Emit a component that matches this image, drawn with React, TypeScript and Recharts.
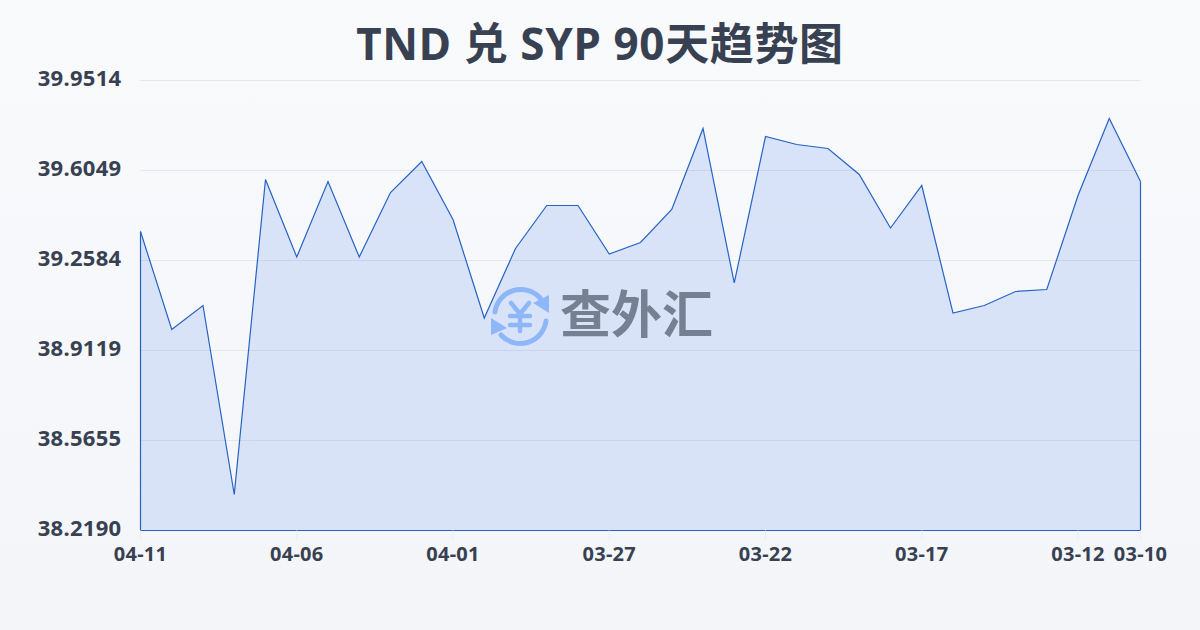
import React from "react";
import { AreaChart, Area, XAxis, YAxis, CartesianGrid, ReferenceLine } from "recharts";

const dates = ["04-11","04-10","04-09","04-08","04-07","04-06","04-05","04-04","04-03","04-02","04-01","03-31","03-30","03-29","03-28","03-27","03-26","03-25","03-24","03-23","03-22","03-21","03-20","03-19","03-18","03-17","03-16","03-15","03-14","03-13","03-12","03-11","03-10"];
const rates = [39.3701,38.9928,39.0852,38.3576,39.5703,39.272,39.5626,39.272,39.5202,39.6396,39.4163,39.037,39.3046,39.4702,39.4702,39.283,39.3277,39.4548,39.7666,39.172,39.7358,39.705,39.6896,39.5895,39.3835,39.5472,39.056,39.0852,39.1391,39.1468,39.5087,39.8051,39.5626];
const xTicks = ["04-11","04-06","04-01","03-27","03-22","03-17","03-12","03-10"];
const yTicks = [38.219,38.5655,38.9119,39.2584,39.6049,39.9514];
const table = dates.map((date, i) => ({ date, rate: rates[i] }));

const LINE = "#2563c4";
const INK = "#374151";
const FONT = "'Noto Sans','Noto Sans CJK SC',sans-serif";

export default function App() {
  return (
    <div style={{ position: "absolute", left: 0, top: 0, width: 1200, height: 630, overflow: "hidden", background: "linear-gradient(180deg,#f9fafc 0%,#f3f5f8 100%)" }}>
      <div style={{ position: "absolute", left: 0, top: 13, width: 1200, textAlign: "center", fontFamily: FONT, fontWeight: 700, fontSize: 44, letterSpacing: 0.65, lineHeight: "60px", color: "#374151" }}>
        TND 兑 SYP 90天趋势图
      </div>
      <AreaChart width={1201} height={631} data={table} margin={{ top: 80.5, right: 60.5, bottom: 0.5, left: 0.5 }} style={{ position: "absolute", left: 0, top: 0 }}>
        <defs>
          <linearGradient id="fillArea" x1="0" y1="0" x2="0" y2="1">
            <stop offset="0%" stopColor="#2563eb" stopOpacity={0.15} />
            <stop offset="100%" stopColor="#2563eb" stopOpacity={0.13} />
          </linearGradient>
        </defs>
        <CartesianGrid vertical={false} stroke="#e5e7eb" strokeWidth={1} />
        <XAxis dataKey="date" scale="point" ticks={xTicks} interval={0} height={100} axisLine={false} tickLine={{ stroke: "#eceef1" }} tickSize={10} tickMargin={6}
          tick={{ fontFamily: FONT, fontWeight: 700, fontSize: 20, fill: INK, letterSpacing: 0.3 }} />
        <YAxis type="number" domain={[38.219, 39.9514]} ticks={yTicks} interval={0} width={140} axisLine={false} tickLine={false} tickMargin={19} tickSize={0}
          tickFormatter={(v: number) => v.toFixed(4)}
          tick={{ fontFamily: FONT, fontWeight: 700, fontSize: 22, fill: INK, dy: -2, letterSpacing: 0.3 }} />
        <Area type="linear" dataKey="rate" stroke={LINE} strokeWidth={1.2} fill="url(#fillArea)" fillOpacity={1} dot={false} activeDot={false} isAnimationActive={false} baseValue={38.219} />
        <ReferenceLine segment={[{ x: dates[0], y: 38.219 }, { x: dates[0], y: rates[0] }]} stroke={LINE} strokeWidth={1.2} />
        <ReferenceLine segment={[{ x: dates[dates.length - 1], y: 38.219 }, { x: dates[dates.length - 1], y: rates[rates.length - 1] }]} stroke={LINE} strokeWidth={1.2} />
        <ReferenceLine y={38.219} stroke={LINE} strokeWidth={1.2} />
      </AreaChart>
      <svg width={1200} height={630} style={{ position: "absolute", left: 0, top: 0, pointerEvents: "none" }}>
        <g fill="none" stroke="#8db7f8" strokeWidth={5} strokeLinecap="round">
          <path d="M495 312 A26 26 0 0 1 540 298" />
          <path d="M546 321 A26 26 0 0 1 501 335" />
          <path d="M511 303 L520 314 L529 303 M510 316 H530 M510 325 H530 M520 315 V331" strokeWidth={4.5} />
        </g>
        <path d="M549 295 V313 L533 303 Z M491 335 V318 L507 328 Z" fill="#8db7f8" />
        <text x={560} y={333} fontFamily="'Noto Sans CJK SC'" fontWeight={700} fontSize={51} fill="#768093">查外汇</text>
      </svg>
    </div>
  );
}
